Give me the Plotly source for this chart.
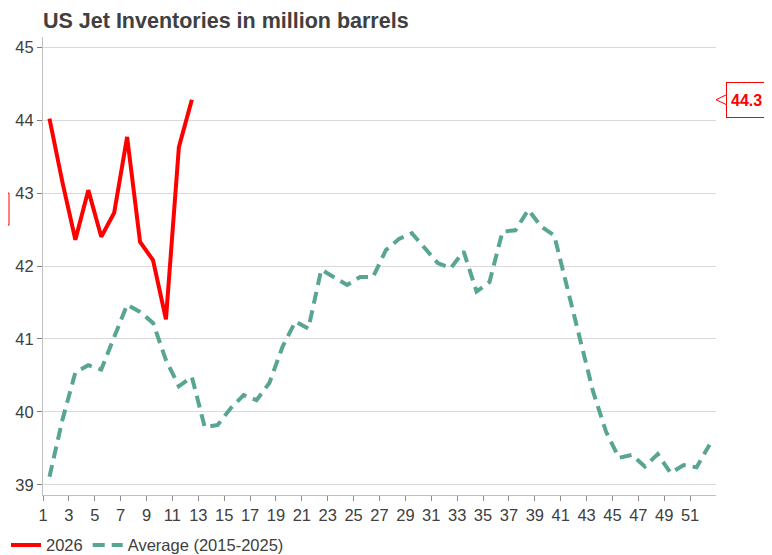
import plotly.graph_objects as go

# weekly data, week 1..52
weeks = list(range(1, 53))
jet_2026 = [44.02, 43.15, 42.36, 43.04, 42.40, 42.73, 43.77, 42.33, 42.08, 41.27,
            43.63, 44.28]
jet_avg = [39.11, 39.89, 40.54, 40.64, 40.58, 41.03, 41.47, 41.37, 41.22, 40.71,
           40.35, 40.48, 39.79, 39.82, 40.05, 40.23, 40.16, 40.40, 40.89, 41.24,
           41.14, 41.95, 41.85, 41.74, 41.85, 41.85, 42.22, 42.37, 42.45, 42.24,
           42.04, 41.97, 42.20, 41.65, 41.78, 42.47, 42.49, 42.77, 42.54, 42.42,
           41.72, 40.99, 40.28, 39.73, 39.37, 39.41, 39.25, 39.42, 39.16, 39.27,
           39.24, 39.55]
tick_weeks = list(range(1, 52, 2))
y_ticks = [39, 40, 41, 42, 43, 44, 45]
y_range = [38.86, 45.14]

RED = "#ff0000"
GREEN = "#58a593"
GREY_TXT = "#404040"
FONT = "Liberation Sans, Arial"

fig = go.Figure()
fig.add_trace(go.Scatter(x=weeks[:len(jet_2026)], y=jet_2026, mode="lines", name="2026",
                         line=dict(color=RED, width=4)))
fig.add_trace(go.Scatter(x=weeks, y=jet_avg, mode="lines", name="Average (2015-2025)",
                         line=dict(color=GREEN, width=4, dash="12px,7px")))

last = jet_2026[-1]
# callout box with the latest value
fig.add_annotation(xref="paper", yref="y", x=1.015, y=last, xanchor="left",
                   text=f"<b>{last:.1f}</b>", showarrow=False, align="left",
                   font=dict(family=FONT, size=16, color=RED),
                   bgcolor="white", bordercolor=RED, borderwidth=1, borderpad=4,
                   width=60, height=26)
h = 0.07
fig.add_shape(type="path", xref="paper", yref="y", layer="above",
              path=f"M 1.016,{last + h} L 1.0,{last} L 1.016,{last - h}",
              fillcolor="white", line=dict(color=RED, width=1))


def to_paper(v):
    return (v - y_range[0]) / (y_range[1] - y_range[0])


# label box cut off on the left edge
fig.add_shape(type="rect", xref="paper", yref="paper", x0=-0.2, x1=-0.0505,
              y0=to_paper(42.56), y1=to_paper(43.0),
              line=dict(color=RED, width=1), fillcolor="rgba(0,0,0,0)")

# page body adds 8px, so the figure is 8px smaller than the window
fig.update_layout(
    width=764, height=547,
    margin=dict(l=35, r=56, t=29, b=60, autoexpand=False),
    plot_bgcolor="white", paper_bgcolor="white",
    font=dict(family=FONT, size=16.5, color=GREY_TXT),
    title=dict(text="<b>US Jet Inventories in million barrels</b>",
               x=0, xref="paper", xanchor="left", y=0.978, yref="container", yanchor="middle",
               font=dict(size=21.5, color=GREY_TXT)),
    showlegend=True,
    legend=dict(orientation="h", x=-0.055, xanchor="left", yref="container", y=0.018,
                yanchor="middle", font=dict(size=16.5, color=GREY_TXT),
                bgcolor="rgba(0,0,0,0)", itemwidth=30, tracegroupgap=0),
)
fig.update_xaxes(range=[0.5, 52.5], tickvals=[w - 0.5 for w in tick_weeks],
                 ticktext=[str(w) for w in tick_weeks], automargin=False,
                 showgrid=False, zeroline=False, showline=True, linecolor="#bfbfbf",
                 linewidth=1, ticks="outside", ticklen=5, tickcolor="#8c8c8c",
                 tickfont=dict(size=16.5, color=GREY_TXT))
fig.update_yaxes(range=y_range, tickvals=y_ticks, showgrid=True, automargin=False,
                 gridcolor="#d9d9d9", gridwidth=1, zeroline=False, showline=True,
                 linecolor="#bfbfbf", linewidth=1, ticks="outside", ticklen=5,
                 tickcolor="#7f7f7f", tickfont=dict(size=16.5, color=GREY_TXT))

fig.write_html("out.html")
